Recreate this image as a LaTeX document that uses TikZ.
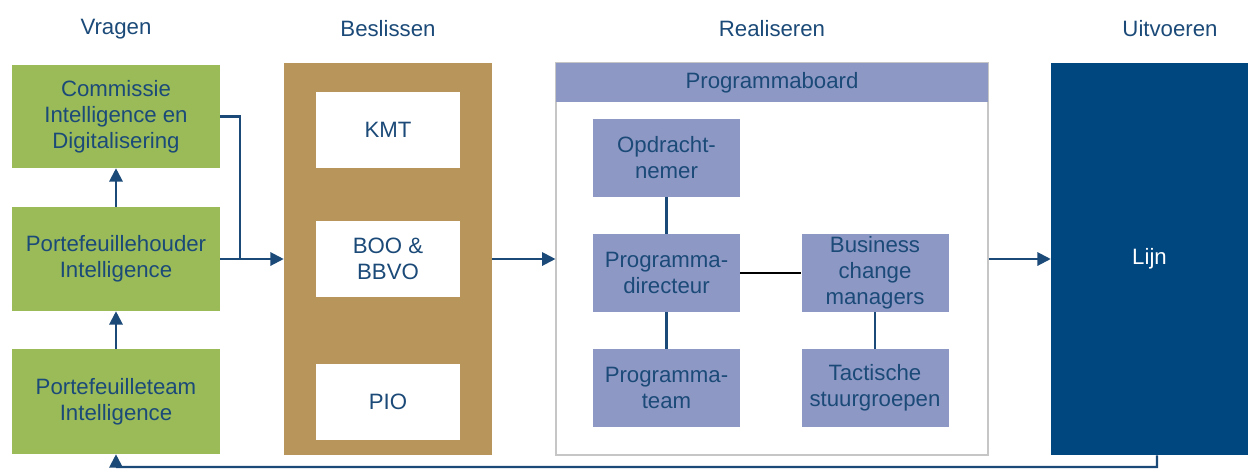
\documentclass[tikz,border=0pt]{standalone}
\usepackage{fontspec}
\setmainfont{Liberation Sans}
\usetikzlibrary{arrows.meta}
\definecolor{txtblue}{HTML}{1B4A78}
\definecolor{vraaggreen}{HTML}{9BBB59}
\definecolor{beslisbrown}{HTML}{B8955A}
\definecolor{boardpurple}{HTML}{8E98C4}
\definecolor{lijnblue}{HTML}{00467F}
\tikzset{
  every node/.style={font=\fontsize{15.8pt}{18.6pt}\selectfont, text=txtblue, align=center, inner sep=0pt},
  box/.style={rectangle, minimum width=#1*0.025cm},
  greenbox/.style={box=208, fill=vraaggreen},
  whitebox/.style={box=144, minimum height=76*0.025cm, fill=white},
  purplebox/.style={box=147, minimum height=78*0.025cm, fill=boardpurple},
  flow/.style={draw=txtblue, line width=1.5pt, -{Triangle[length=9.5pt,width=9.5pt]}},
  link/.style={draw=txtblue, line width=1.5pt},
}
\begin{document}
\begin{tikzpicture}[x=0.025cm, y=-0.025cm]
\useasboundingbox (0,0) rectangle (1248,475);
% kolomkoppen
\node (hvragen) at (116,29) {Vragen};
\node (hbeslis) at (388,29) {Beslissen};
\node (hreal) at (772,29) {Realiseren};
\node (huitv) at (1170,29) {Uitvoeren};
% vragen
\node[greenbox, minimum height=103*0.025cm] (cie) at (116,116.5) {Commissie\\Intelligence en\\Digitalisering};
\node[greenbox, minimum height=104*0.025cm] (ph) at (116,259) {Portefeuillehouder\\Intelligence};
\node[greenbox, minimum height=105*0.025cm] (pt) at (116,401.5) {Portefeuilleteam\\Intelligence};
% beslissen
\node[box=208, minimum height=392*0.025cm, fill=beslisbrown] (beslis) at (388,259) {};
\node[whitebox] (kmt) at (388,130) {KMT};
\node[whitebox] (boo) at (388,258.5) {BOO \&\\BBVO};
\node[whitebox] (pio) at (388,401.5) {PIO};
% realiseren
\node[box=432, minimum height=392*0.025cm, draw=gray!45, line width=0.8pt, fill=white] (real) at (772,259) {};
\node[box=432, minimum height=39*0.025cm, fill=boardpurple] (board) at (772,82.5) {Programmaboard};
\node[purplebox] (opdr) at (666.5,157.5) {Opdracht-\\nemer};
\node[purplebox] (pdir) at (666.5,273) {Programma-\\directeur};
\node[purplebox] (bcm) at (875,273) {Business\\change\\managers};
\node[purplebox] (pteam) at (666.5,388) {Programma-\\team};
\node[purplebox] (tact) at (875,388) {Tactische\\stuurgroepen};
% uitvoeren
\node[box=197, minimum height=392*0.025cm, fill=lijnblue, text=white] (lijn) at (1149.5,259) {Lijn};
% verbindingen
\draw[flow] (pt.north) -- (ph.south);
\draw[flow] (ph.north) -- (cie.south);
\coordinate (knik) at (240,259);
\draw[link] (cie.east) -| (knik);
\draw[flow] (ph.east) -- (beslis.west);
\draw[flow] (beslis.east) -- (real.west);
\draw[flow] (real.east) -- (lijn.west);
\draw[link] (opdr) -- (pdir);
\draw[link] (pdir) -- (pteam);
\draw[link] (bcm) -- (tact);
\draw[line width=1.2pt] (pdir) -- (bcm);
\coordinate (terug) at (1157,467);
\draw[flow] ([xshift=7.5*0.025cm]lijn.south) -- (terug) -| (pt.south);
\end{tikzpicture}
\end{document}
